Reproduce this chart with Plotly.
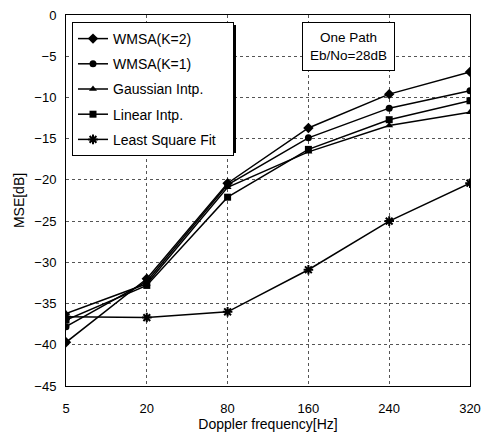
import plotly.graph_objects as go

categories = ["5", "20", "80", "160", "240", "320"]
wmsa_k2 = [-39.7, -32.0, -20.4, -13.7, -9.6, -6.9]
wmsa_k1 = [-37.8, -32.3, -20.6, -14.9, -11.3, -9.2]
gaussian = [-36.2, -32.6, -20.9, -16.6, -13.4, -11.8]
linear = [-37.0, -32.8, -22.1, -16.3, -12.7, -10.4]
lsf = [-36.6, -36.7, -36.0, -30.9, -25.0, -20.4]
y_ticks = [0, -5, -10, -15, -20, -25, -30, -35, -40, -45]

series = [
    ("WMSA(K=2)", wmsa_k2, "diamond", 8),
    ("WMSA(K=1)", wmsa_k1, "circle", 7),
    ("Gaussian Intp.", gaussian, "triangle-up", 7),
    ("Linear Intp.", linear, "square", 7),
    ("Least Square Fit\u00a0\u00a0\u00a0", lsf, "asterisk-open", 8),
]

FONT = "Arial, Liberation Sans, sans-serif"
L, R, T, B = 66, 26, 15, 52
W, H = 496, 438
PW, PH = W - L - R, H - T - B


def px_x(px):
    return (px - L) / PW


def px_y(py):
    return 1 - (py - T) / PH


fig = go.Figure()
for i, (name, vals, sym, sz) in enumerate(series):
    fig.add_trace(go.Scatter(
        x=categories, y=vals, name=name, mode="lines+markers",
        legendgroup=f"g{i}",
        line=dict(color="black", width=1.5),
        marker=dict(symbol=sym, size=sz, color="black",
                    line=dict(color="black", width=2 if sym == "asterisk-open" else 0)),
    ))

fig.update_layout(
    width=W, height=H,
    margin=dict(l=L, r=R, t=T, b=B, autoexpand=False),
    paper_bgcolor="white", plot_bgcolor="white",
    font=dict(family=FONT, size=12, color="black"),
    showlegend=True,
    legend=dict(
        x=px_x(72), y=px_y(22), xanchor="left", yanchor="top",
        bgcolor="white", bordercolor="black", borderwidth=1,
        font=dict(family=FONT, size=14, color="black"),
        tracegroupgap=4,
    ),
    xaxis=dict(
        type="category", range=[0, 5], automargin=False,
        showline=True, linecolor="black", linewidth=1, mirror=True,
        showgrid=True, gridcolor="#555", griddash="dot", gridwidth=1,
        ticks="", tickfont=dict(size=13), ticklabelstandoff=10,
        title=dict(text="Doppler frequency[Hz]", font=dict(size=14), standoff=2),
    ),
    yaxis=dict(
        range=[-45, 0], tickvals=y_ticks, automargin=False,
        showline=True, linecolor="black", linewidth=1, mirror=True,
        showgrid=True, gridcolor="#555", griddash="dot", gridwidth=1,
        ticks="", tickfont=dict(size=13), zeroline=False, ticklabelstandoff=6,
        title=dict(text="MSE[dB]", font=dict(size=14), standoff=6),
    ),
    shapes=[dict(
        type="rect", xref="paper", yref="paper", layer="above",
        x0=px_x(75), x1=px_x(236), y0=px_y(153), y1=px_y(25),
        fillcolor="black", line=dict(width=0),
    )],
    annotations=[dict(
        xref="paper", yref="paper", x=px_x(348), y=px_y(22), xanchor="center", yanchor="top",
        text="One Path<br>Eb/No=28dB", showarrow=False,
        bordercolor="black", borderwidth=1, borderpad=7, bgcolor="white",
        font=dict(family=FONT, size=13.5, color="black"),
    )],
)

fig.write_html("out.html")
